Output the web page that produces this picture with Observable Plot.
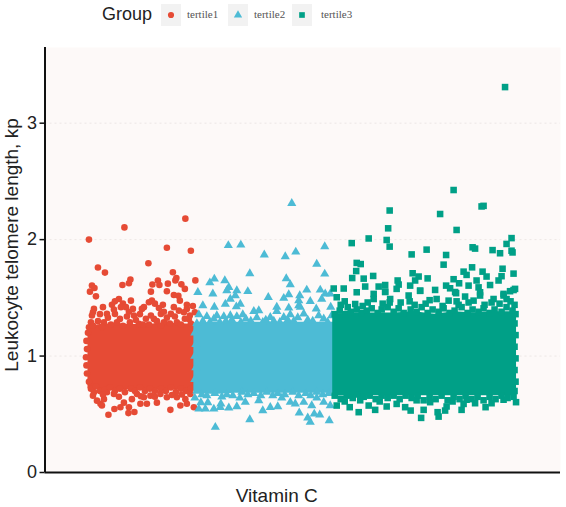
<!DOCTYPE html>
<html><head><meta charset="utf-8">
<script src="https://cdn.jsdelivr.net/npm/d3@7"></script>
<script src="https://cdn.jsdelivr.net/npm/@observablehq/plot@0.6"></script>
<style>
html,body{margin:0;padding:0;background:#fff;width:566px;overflow:hidden}
#legend{position:relative;height:40px;font-family:"Liberation Sans",Arial,sans-serif}
#legend .title{position:absolute;left:102px;top:4px;font-size:18px;color:#222}
#legend .key{position:absolute;top:4px;width:20px;height:22px;background:#f2f2f2}
#legend .key svg{position:absolute;left:0;top:0}
#legend .lab{position:absolute;top:8px;font:11px "Liberation Serif",serif;color:#555}
</style></head><body>
<div id="legend"></div><div id="chart"></div>
<script>
const groups = ["tertile1","tertile2","tertile3"];
const colors = ["#E64B35","#4DBBD5","#00A087"];
const tickValues = [0,1,2,3];
const yLabel = "Leukocyte telomere length, kp";
const xLabel = "Vitamin C";

// Dense body of each group: [rank, lower value, upper value].
const tertile1Body = [[43,.72,1.25],[55,.71,1.27],[70,.71,1.28],[85,.71,1.27],[100,.71,1.27],[115,.71,1.28],[130,.71,1.28],[152,.71,1.27]];
const tertile2Body = [[149,.68,1.28],[170,.67,1.29],[190,.68,1.29],[210,.68,1.29],[230,.68,1.29],[250,.68,1.29],[270,.68,1.29],[292,.68,1.29]];
const tertile3Body = [[288,.655,1.36],[310,.66,1.37],[330,.66,1.37],[350,.66,1.37],[370,.66,1.38],[390,.66,1.36],[410,.66,1.38],[430,.66,1.37],[450,.66,1.38],[472,.66,1.38]];

// Readable points around each body: [rank, value].
const tertile1Points = [[44,2.00],[79.5,2.105],[140.5,2.18],[122,1.93],[146,1.905],[103.5,1.797],[53,1.76],[60,1.717],[128,1.72],[131.5,1.67],[130.5,1.65],[150.5,1.65],[85.5,1.657],[84,1.625],[77.5,1.61],[113,1.648],[114.5,1.61],[107.5,1.614],[123,1.622],[136.5,1.616],[140,1.577],[47,1.605],[49.5,1.585],[45,1.553],[51,1.513],[106,1.553],[122,1.556],[129,1.525],[133.5,1.517],[135,1.476],[74,1.49],[86,1.476],[107,1.476],[104,1.462],[118,1.44],[110,1.45],[70,1.47],[78,1.45],[67,1.44],[58,1.42],[49,1.405],[48,1.376],[76,1.42],[81,1.42],[88,1.405],[99,1.42],[114,1.413],[129,1.42],[142,1.44],[148,1.43],[142,1.405],[150,1.376],[62,1.362],[47,1.348],[70,1.362],[75,1.319],[89,1.348],[97,1.405],[106,1.348],[116,1.362],[126,1.362],[139,1.376],[145,1.348],[46,1.29],[44,1.247],[59,1.29],[94,1.276],[109,1.319],[119,1.29],[132,1.29],[144,1.319],[63.5,.496],[83.5,.51],[89.5,.52],[69.5,.545],[75.5,.56],[55.5,.59],[52,.617],[59,.63],[57,.575],[79,.60],[84,.56],[95.5,.59],[102,.59],[87,.63],[99,.646],[112,.60],[125.5,.538],[135.5,.575],[142,.59],[149,.56],[140.5,.63],[122,.646],[132,.646],[105.5,.66],[69,.675],[115.5,.675],[92,.675],[145.5,.675],[62,.69],[49,.69],[44,.78],[42,.85],[41.5,.92],[41,.99],[42,1.06],[41.5,1.13],[43,1.20]];
const tertile1Shoulder = [[48,1.26],[53,1.30],[57,1.25],[63,1.33],[66,1.27],[72,1.29],[78,1.26],[82,1.34],[85,1.29],[91,1.31],[98,1.27],[101,1.32],[104,1.27],[112,1.30],[116,1.26],[122,1.33],[125,1.28],[130,1.34],[136,1.27],[140,1.32],[146,1.28],[149,1.26],[55,1.36],[69,1.40],[84,1.38],[95,1.36],[119,1.38],[134,1.39],[46,.72],[51,.74],[55,.70],[60,.71],[65,.73],[70,.70],[75,.72],[80,.69],[86,.72],[90,.70],[95,.73],[100,.70],[105,.72],[110,.70],[116,.72],[121,.70],[126,.73],[131,.69],[136,.72],[141,.70],[146,.72],[48,.66],[58,.67],[74,.65],[96,.655],[110,.65],[127,.665],[137,.67]];
const tertile2Points = [[247,2.312],[183.5,1.95],[196,1.954],[280,1.94],[219.5,1.87],[240.5,1.854],[251,1.894],[272,1.79],[205,1.708],[280,1.705],[241.5,1.665],[245.5,1.614],[169.5,1.662],[165,1.63],[180,1.648],[184,1.59],[153,1.548],[182,1.563],[192,1.563],[203,1.555],[168,1.534],[190.5,1.52],[185.5,1.49],[223.5,1.505],[244,1.528],[255,1.52],[262,1.568],[275.5,1.568],[280.5,1.534],[285.5,1.534],[239,1.497],[180.5,1.447],[195.5,1.447],[254,1.476],[265.5,1.47],[277,1.49],[158,1.433],[169.5,1.42],[191.5,1.424],[232,1.42],[244,1.413],[254,1.433],[271.5,1.405],[286,1.42],[209,1.385],[214,1.39],[232,1.385],[198,1.356],[185.5,1.348],[172,1.348],[154,1.356],[162,1.34],[245.5,1.356],[259,1.362],[274,1.348],[225.5,1.333],[179,1.34],[192,1.34],[239,1.333],[255.5,1.42],[287,1.348],[170.5,.389],[205,.455],[284.5,.446],[265.5,.432],[263,.469],[275,.495],[269.5,.503],[254.5,.512],[218,.532],[233,.566],[225.5,.56],[250.5,.59],[267,.575],[285.5,.575],[176,.59],[192,.566],[184,.555],[169,.546],[160.5,.546],[154,.546],[200.5,.604],[175.5,.56],[214,.618],[259,.604],[245.5,.604],[279,.604],[156,.60],[163,.60],[150,.64],[195,.64],[237,.64],[272,.64]];
const tertile2Shoulder = [[152,1.28],[158,1.30],[165,1.29],[169,1.32],[175,1.29],[181,1.30],[187,1.31],[196,1.29],[201,1.32],[206,1.30],[212,1.33],[218,1.29],[221,1.31],[229,1.30],[235,1.29],[243,1.31],[249,1.30],[253,1.33],[263,1.31],[268,1.30],[279,1.32],[283,1.29],[150,1.20],[151,1.10],[150,1.00],[151,.90],[150,.80],[152,.70],[157,.67],[162,.66],[170,.68],[177,.65],[182,.67],[188,.66],[197,.69],[203,.67],[209,.68],[216,.66],[222,.69],[228,.66],[233,.68],[240,.67],[248,.69],[254,.66],[261,.68],[266,.66],[272,.69],[278,.67],[284,.68]];
const tertile3Points = [[460.5,3.31],[409,2.426],[439,2.29],[437,2.285],[345,2.25],[395.5,2.22],[343.5,2.097],[412,2.083],[324,2.01],[467,2.013],[307,1.97],[342,1.997],[345,1.94],[462,1.963],[428,1.934],[430.5,1.923],[382,1.914],[448,1.91],[455.5,1.883],[467,1.905],[468,1.89],[367,1.873],[401.5,1.868],[399,1.785],[312,1.80],[316,1.79],[311.5,1.73],[307.5,1.67],[319,1.665],[328.5,1.688],[368,1.711],[374,1.683],[370.5,1.649],[383,1.667],[353,1.649],[354,1.614],[427.5,1.762],[419,1.725],[422,1.697],[438,1.725],[442,1.683],[458,1.75],[457,1.686],[454,1.649],[469,1.708],[409,1.66],[414.5,1.625],[432,1.649],[424,1.605],[434,1.59],[445.5,1.61],[340.5,1.61],[334,1.597],[320.5,1.597],[289,1.58],[299,1.58],[312,1.548],[329,1.534],[340.5,1.554],[352,1.577],[365.5,1.605],[375.5,1.562],[390.5,1.568],[401.5,1.605],[405.5,1.582],[411.5,1.54],[435.5,1.548],[470.5,1.577],[465.5,1.557],[459,1.534],[420.5,1.511],[292,1.505],[364,1.52],[345.5,1.49],[392,1.49],[449,1.49],[340.5,1.55],[375.5,1.56],[410.5,1.55],[435.5,1.52],[459,1.52],[469,1.567],[310.5,1.447],[329,1.49],[404,1.476],[429,1.476],[296,1.44],[303,1.42],[318,1.43],[338,1.45],[356,1.46],[370,1.44],[381,1.45],[398,1.43],[414,1.44],[440,1.44],[455,1.45],[466,1.47],[470,1.44],[376.5,.469],[394,.48],[393,.518],[400.5,.532],[314,.518],[305,.561],[330.5,.538],[342,.567],[366,.532],[379,.538],[417,.538],[419,.589],[430.5,.595],[441,.561],[447,.595],[471.5,.604],[292,.575],[324,.575],[352,.589],[360.5,.561],[385.5,.604],[422,.625],[402,.567],[315.5,.62],[459,.625],[300,.61],[335,.61],[372,.62],[408,.61],[470,.70],[471,.78],[470,.88],[471,.98],[470,1.08],[471,1.18],[470,1.28],[471,1.36]];
const tertile3Shoulder = [[290,1.36],[295,1.39],[301,1.36],[306,1.38],[312,1.40],[317,1.37],[322,1.39],[327,1.41],[333,1.37],[337,1.40],[343,1.42],[349,1.38],[354,1.41],[359,1.37],[366,1.40],[372,1.38],[377,1.42],[383,1.37],[388,1.40],[394,1.38],[399,1.41],[405,1.37],[410,1.39],[417,1.42],[423,1.37],[428,1.40],[434,1.38],[439,1.41],[445,1.37],[450,1.40],[457,1.38],[462,1.42],[468,1.39],[300,1.47],[323,1.46],[345,1.46],[365,1.47],[385,1.48],[412,1.47],[424,1.46],[447,1.46],[462,1.49],[290,.66],[296,.63],[302,.66],[308,.64],[313,.67],[319,.65],[325,.66],[331,.63],[337,.66],[343,.64],[349,.66],[355,.63],[361,.66],[367,.64],[373,.66],[379,.62],[385,.65],[391,.63],[397,.66],[403,.62],[409,.65],[415,.63],[421,.66],[427,.63],[433,.65],[439,.62],[445,.65],[451,.63],[457,.66],[463,.64],[469,.65]];

const ranks = [0,516];
const rows = (pts,g) => pts.map(([rank,value]) => ({rank,value,group:g}));
const body = (b,g) => b.map(([rank,lo,hi]) => ({rank,lo,hi,group:g}));
const symbols = ["circle","triangle","square"];
const radii = [3.3,3.4,3.7];

const layer = i => {
  const B = [tertile1Body,tertile2Body,tertile3Body][i];
  const P = [tertile1Points,tertile2Points,tertile3Points][i].concat([tertile1Shoulder,tertile2Shoulder,tertile3Shoulder][i]);
  return [
    Plot.areaY(body(B,groups[i]),{x:"rank",y1:"lo",y2:"hi",fill:colors[i]}),
    Plot.dot(rows(P,groups[i]),{x:"rank",y:"value",symbol:()=>symbols[i],r:radii[i],fill:colors[i],stroke:"none"})
  ];
};

const chart = Plot.plot({
  width:566,height:467,
  marginLeft:44.5,marginRight:6,marginTop:7,marginBottom:35,
  style:{fontFamily:'"Liberation Sans",Arial,sans-serif',background:"#fff",color:"#222"},
  symbol:{type:"identity"},
  x:{domain:ranks,axis:null},
  y:{domain:[0,3.65]},
  marks:[
    Plot.frame({fill:"#fdf9f8",stroke:null}),
    Plot.ruleY(tickValues.slice(1),{stroke:"#e9e2e0",strokeWidth:.8,strokeDasharray:"2,3"}),
    ...layer(0),...layer(1),...layer(2),
    Plot.axisY({ticks:tickValues,tickSize:5,tickPadding:3,tickFormat:d3.format("d"),fontSize:18,stroke:"#111",strokeWidth:1.5,color:"#222",label:null}),
    Plot.text([yLabel],{frameAnchor:"left",textAnchor:"middle",dx:-33,dy:-15,rotate:-90,fontSize:19,fill:"#222"}),
    Plot.text([xLabel],{frameAnchor:"bottom",dx:-26,dy:29,fontSize:19,fill:"#222"}),
    Plot.ruleX([0],{stroke:"#111",strokeWidth:2}),
    Plot.ruleY([0],{stroke:"#111",strokeWidth:2})
  ]
});
document.getElementById("chart").appendChild(chart);
chart.style.display="block";

// Legend
const lg = document.getElementById("legend");
lg.innerHTML = `<div class="title">Group</div>`;
const keyX=[161,228,292], labX=[187,254,321];
const legendSymbols=[d3.symbolCircle,d3.symbolTriangle,d3.symbolSquare], legendSizes=[30,30,32];
groups.forEach((g,i)=>{
  const k=document.createElement("div");k.className="key";k.style.left=keyX[i]+"px";
  k.innerHTML=`<svg width="20" height="22"><path d="${d3.symbol(legendSymbols[i],legendSizes[i])()}" transform="translate(10,11)" fill="${colors[i]}"/></svg>`;
  lg.appendChild(k);
  const t=document.createElement("div");t.className="lab";t.style.left=labX[i]+"px";t.textContent=g;lg.appendChild(t);
});
</script>
</body></html>
